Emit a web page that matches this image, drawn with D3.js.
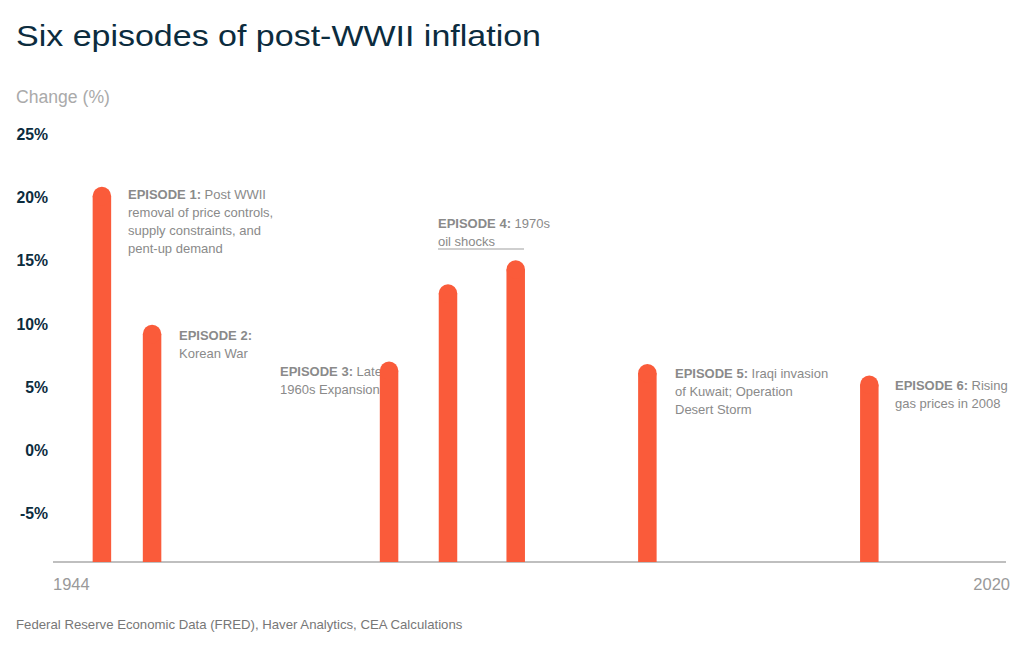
<!DOCTYPE html>
<html>
<head>
<meta charset="utf-8">
<script src="https://cdn.jsdelivr.net/npm/d3@7"></script>
<style>
  html, body { margin: 0; padding: 0; background: #fff; }
  svg { display: block; font-family: "Liberation Sans", Arial, Helvetica, sans-serif; }
</style>
</head>
<body>
<svg id="chart" width="1024" height="648"></svg>
<script>
// ---- data ----
const years  = [1947.9, 1951.9, 1970.8, 1975.5, 1980.9, 1991.4, 2009.1];
const values = [20.1, 9.2, 6.3, 12.4, 14.3, 6.1, 5.2];
const yTicks = [-5, 0, 5, 10, 15, 20, 25];
const xTickLabels = [1944, 2020];
const annotations = [
  { head: "EPISODE 1:", lines: [" Post WWII", "removal of price controls,", "supply constraints, and", "pent-up demand"] },
  { head: "EPISODE 2:", lines: ["", "Korean War"] },
  { head: "EPISODE 3:", lines: [" Late", "1960s Expansion"] },
  { head: "EPISODE 4:", lines: [" 1970s", "oil shocks"] },
  { head: "EPISODE 5:", lines: [" Iraqi invasion", "of Kuwait; Operation", "Desert Storm"] },
  { head: "EPISODE 6:", lines: [" Rising", "gas prices in 2008"] }
];

const svg = d3.select("#chart");
const x = d3.scaleLinear().domain([1944, 2020]).range([53, 1006]);
const y = d3.scaleLinear().domain([-8.8, 25]).range([562, 134]);

// title
svg.append("text").attr("x", 16).attr("y", 46)
  .attr("fill", "#0c2c3e").attr("font-size", 30)
  .attr("textLength", 525).attr("lengthAdjust", "spacingAndGlyphs")
  .text("Six episodes of post-WWII inflation");

svg.append("text").attr("x", 16).attr("y", 103)
  .attr("fill", "#aaaaaa").attr("font-size", 17.6)
  .text("Change (%)");

// y axis
const yAxis = d3.axisLeft(y).tickValues(yTicks).tickSize(0).tickPadding(0)
  .tickFormat(d => d + "%");
const gy = svg.append("g").attr("transform", "translate(48,0)").call(yAxis);
gy.select(".domain").remove();
gy.selectAll("text").attr("fill", "#0c2c3e").attr("font-size", 15.8)
  .attr("font-weight", "bold").attr("font-family", "Liberation Sans, Arial, sans-serif");

// x baseline
svg.append("line").attr("x1", x(1944)).attr("x2", x(2020))
  .attr("y1", y(-8.8)).attr("y2", y(-8.8))
  .attr("stroke", "#aaaaaa").attr("stroke-width", 1.5);

svg.selectAll("text.xlab").data(xTickLabels).enter().append("text")
  .attr("class", "xlab")
  .attr("x", (d, i) => i === 0 ? x(d) : x(d) + 4)
  .attr("y", 590)
  .attr("text-anchor", (d, i) => i === 0 ? "start" : "end")
  .attr("fill", "#999999").attr("font-size", 16.5)
  .text(d => d);

// annotations (drawn before bars)
const annPos = [
  { dx: 128, y0: 199 },
  { dx: 179, y0: 340 },
  { dx: 280, y0: 376 },
  { dx: 438, y0: 228 },
  { dx: 675, y0: 378 },
  { dx: 895, y0: 390 }
];
annotations.forEach((a, i) => {
  const p = annPos[i];
  const t = svg.append("text").attr("x", p.dx).attr("y", p.y0)
    .attr("fill", "#8a8a8a").attr("font-size", 13);
  a.lines.forEach((ln, j) => {
    if (j === 0) {
      t.append("tspan").attr("x", p.dx).attr("y", p.y0).attr("font-weight", "bold").text(a.head);
      if (ln) t.append("tspan").text(ln);
    } else {
      t.append("tspan").attr("x", p.dx).attr("y", p.y0 + j * 18).text(ln);
    }
  });
});
// underline for episode 4
svg.append("line").attr("x1", 438).attr("x2", 524).attr("y1", 249).attr("y2", 249)
  .attr("stroke", "#a0a0a0").attr("stroke-width", 1.2);

// bars
const bw = 18.5;
const color = "#fa5b3a";
const data = years.map((yr, i) => ({ yr, v: values[i] }));
svg.selectAll("rect.bar").data(data).enter().append("rect")
  .attr("class", "bar")
  .attr("x", d => x(d.yr) - bw / 2)
  .attr("width", bw)
  .attr("y", d => y(d.v))
  .attr("height", d => y(-8.8) - y(d.v))
  .attr("fill", color);
svg.selectAll("circle.cap").data(data).enter().append("circle")
  .attr("class", "cap")
  .attr("cx", d => x(d.yr))
  .attr("cy", d => y(d.v))
  .attr("r", bw / 2)
  .attr("fill", color);

// source
svg.append("text").attr("x", 16).attr("y", 629)
  .attr("fill", "#777777").attr("font-size", 13.2)
  .text("Federal Reserve Economic Data (FRED), Haver Analytics, CEA Calculations");
</script>
</body>
</html>
